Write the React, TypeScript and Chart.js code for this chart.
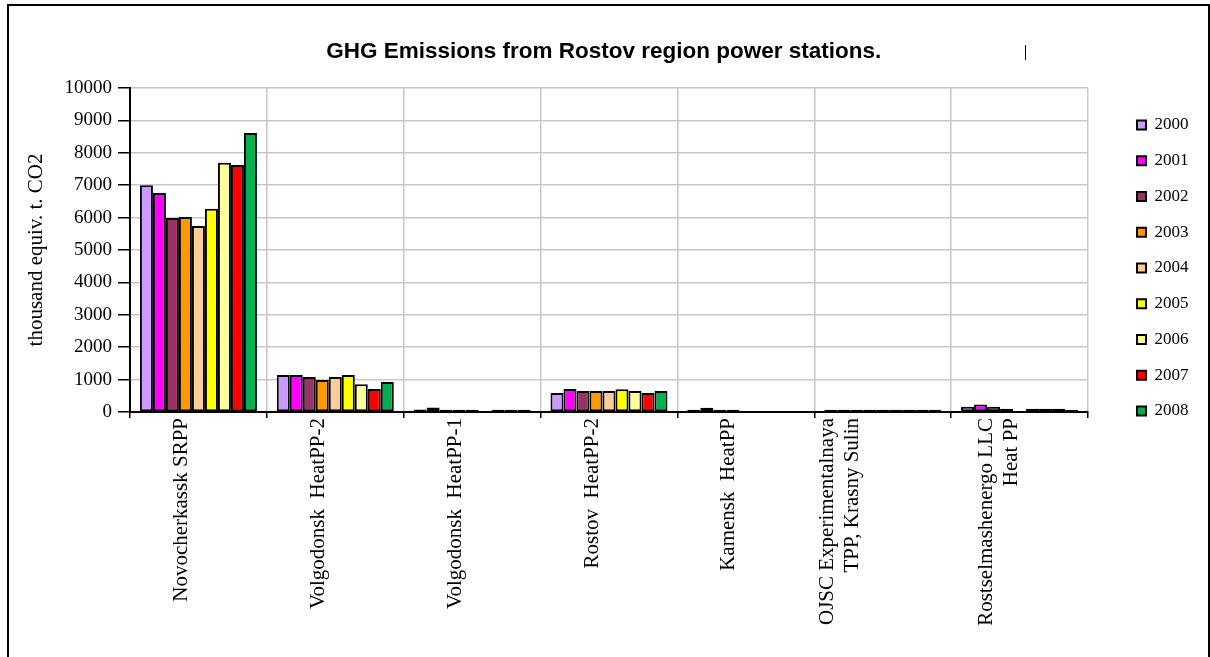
import React, { useEffect, useRef } from 'react';
import { Chart, registerables } from 'chart.js';

Chart.register(...registerables);

const chartTitle = 'GHG Emissions from Rostov region power stations.';
const yAxisTitle = 'thousand equiv. t. CO2';

const stations: (string | string[])[] = [
  'Novocherkassk SRPP',
  'Volgodonsk  HeatPP-2',
  'Volgodonsk  HeatPP-1',
  'Rostov  HeatPP-2',
  'Kamensk  HeatPP',
  ['OJSC Experimentalnaya', 'TPP, Krasny Sulin'],
  ['Rostselmashenergo LLC', 'Heat PP'],
];

const years = ['2000', '2001', '2002', '2003', '2004', '2005', '2006', '2007', '2008'];

// values per year, in station order (thousand equiv. t. CO2)
const v2000 = [7000, 1140, 80, 590, 70, 70, 160];
const v2001 = [6760, 1140, 140, 710, 130, 70, 230];
const v2002 = [5990, 1080, 70, 650, 70, 70, 160];
const v2003 = [6020, 990, 70, 650, 70, 70, 100];
const v2004 = [5740, 1080, 70, 650, 0, 70, 20];
const v2005 = [6270, 1140, 0, 700, 0, 70, 100];
const v2006 = [7690, 860, 70, 650, 0, 70, 100];
const v2007 = [7620, 710, 70, 590, 0, 70, 100];
const v2008 = [8610, 925, 70, 650, 0, 70, 60];

const series = [v2000, v2001, v2002, v2003, v2004, v2005, v2006, v2007, v2008];

const colors = ['#CC99FF', '#FF00FF', '#993366', '#FF9900', '#FFCC99', '#FFFF00', '#FFFF99', '#FF0000', '#00B050'];

// extra horizontal shift of each category label (multi-line labels sit further left)
const labelShift = [0, 0, 0, 0, 0, -38, -16];

const SERIF = "'Liberation Serif', 'Times New Roman', serif";

const stray = {
  id: 'stray',
  afterUpdate(chart: any) {
    const xs = chart.scales.x;
    if (!xs) return;
    const items = xs.getLabelItems();
    items.forEach((it: any, i: number) => {
      if (it._shifted) return;
      const d = labelShift[i] || 0;
      it.options.translation = [it.options.translation[0] + d, it.options.translation[1]];
      it._shifted = true;
    });
  },
  afterDraw(chart: any) {
    const c = chart.ctx;
    c.save();
    c.strokeStyle = '#000';
    c.lineWidth = 1;
    c.beginPath();
    c.moveTo(1016.5, 39);
    c.lineTo(1016.5, 54);
    c.stroke();
    c.restore();
  },
};

export default function App() {
  const ref = useRef<HTMLCanvasElement>(null);
  useEffect(() => {
    const canvas = ref.current!;
    const chart = new Chart(canvas, {
      type: 'bar',
      data: {
        labels: stations,
        datasets: series.map((s, i) => ({
          label: years[i],
          data: s,
          backgroundColor: colors[i],
          borderColor: '#000',
          borderWidth: 2,
          borderSkipped: false,
          categoryPercentage: 0.855,
          barPercentage: 1,
        })),
      },
      options: {
        responsive: false,
        animation: false,
        events: [],
        layout: { padding: { top: 0, left: 0, bottom: 0, right: 9.5 } },
        plugins: {
          title: {
            display: true,
            text: chartTitle,
            color: '#000',
            font: { family: "'Liberation Sans', Arial, sans-serif", size: 22.5, weight: 'bold' },
            padding: { top: 32.5, bottom: 22.5 },
          },
          legend: {
            position: 'right',
            align: 'start',
            title: { display: true, text: '', font: { size: 10 }, padding: { top: 79.75, bottom: 0 } },
            labels: {
              boxWidth: 9,
              boxHeight: 9,
              padding: 18.75,
              color: '#000',
              font: { family: SERIF, size: 17 },
            },
          },
          tooltip: { enabled: false },
        },
        scales: {
          x: {
            grid: { color: '#c8c8c8', lineWidth: 1.5, tickLength: 6, tickColor: '#000', tickWidth: 1.5 },
            border: { color: '#000', width: 2 },
            ticks: {
              autoSkip: false,
              minRotation: 90,
              maxRotation: 90,
              padding: 0,
              labelOffset: -17,
              color: '#000',
              font: { family: SERIF, size: 21 },
            },
            afterFit: (s: any) => { s.height = 254; },
          },
          y: {
            min: 0,
            max: 10000,
            ticks: {
              stepSize: 1000,
              padding: 6,
              color: '#000',
              font: { family: SERIF, size: 19 },
              callback: (v: any) => String(v),
            },
            grid: { color: '#c8c8c8', lineWidth: 1.5, tickLength: 12, tickColor: '#000', tickWidth: 1.5 },
            border: { color: '#000', width: 2 },
            title: {
              display: true,
              text: yAxisTitle,
              color: '#000',
              font: { family: SERIF, size: 21 },
              padding: { top: 15, bottom: 0 },
            },
            afterFit: (s: any) => { s.width = 121; },
          },
          y2: {
            position: 'right',
            display: true,
            grid: { display: false, drawTicks: false },
            ticks: { display: false },
            border: { display: false },
            afterFit: (s: any) => { s.width = 30.25; },
          },
        },
      } as any,
      plugins: [stray],
    });
    return () => chart.destroy();
  }, []);

  return (
    <div
      style={{
        position: 'fixed',
        left: 7,
        top: 4,
        width: 1199,
        height: 660,
        border: '2px solid #000',
        background: '#fff',
      }}
    >
      <canvas ref={ref} width={1199} height={660} style={{ display: 'block' }} />
    </div>
  );
}
